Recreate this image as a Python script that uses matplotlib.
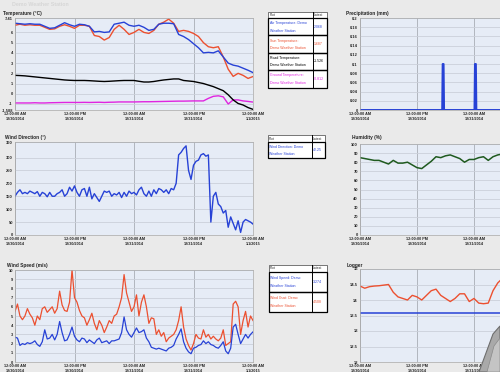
import matplotlib
matplotlib.use("Agg")
import matplotlib.pyplot as plt
from matplotlib.patches import Rectangle, Polygon

plt.rcParams['font.family'] = ['Liberation Sans', 'DejaVu Sans']

W, H = 500, 372

# ---- time axis (hours since 12:00 AM 12/30/2014) ----
tick_hours = [0, 12, 24, 36, 48]
tick_labels = ['12:00:00 AM\n12/30/2014', '12:00:00 PM\n12/30/2014',
               '12:00:00 AM\n12/31/2014', '12:00:00 PM\n12/31/2014',
               '12:00:00 AM\n1/1/2015']

hours_1h = list(range(49))
hours_half = [i * 0.5 for i in range(97)]

# ---- temperature (°C), hourly ----
air_temp = [6.9, 6.85, 6.8, 6.85, 6.8, 6.8, 6.6, 6.4, 6.45, 6.7, 6.95, 6.75, 6.6,
            6.8, 6.75, 6.6, 6.05, 6.1, 6.0, 6.05, 6.8, 6.9, 7.0, 6.7, 6.6, 6.7,
            6.5, 6.2, 6.3, 6.8, 6.9, 6.9, 6.85, 5.8, 5.6, 5.3, 4.9, 4.5, 4.0,
            4.05, 4.0, 4.2, 3.6, 3.0, 2.8, 2.7, 2.5, 2.3, 2.068]
sun_temp = [6.7, 6.8, 6.7, 6.75, 6.7, 6.7, 6.5, 6.3, 6.35, 6.6, 6.75, 6.6, 6.4,
            6.7, 6.7, 6.6, 5.7, 5.6, 5.25, 5.5, 6.3, 6.7, 6.3, 5.8, 6.0, 6.3,
            6.0, 5.9, 6.2, 6.8, 7.0, 7.3, 6.9, 6.1, 6.2, 6.1, 5.9, 5.6, 5.0,
            4.6, 4.5, 4.6, 3.6, 2.4, 1.7, 2.0, 1.8, 1.5, 1.687]
road_temp = [1.8, 1.78, 1.75, 1.7, 1.65, 1.6, 1.55, 1.5, 1.45, 1.4, 1.35, 1.32,
             1.3, 1.3, 1.3, 1.28, 1.25, 1.22, 1.2, 1.22, 1.25, 1.28, 1.3, 1.3,
             1.3, 1.22, 1.15, 1.15, 1.2, 1.28, 1.35, 1.4, 1.45, 1.45, 1.3, 1.25,
             1.2, 1.1, 1.0, 0.85, 0.7, 0.5, 0.3, -0.1, -0.6, -0.95, -1.1, -1.35,
             -1.526]
ground_temp = [-0.9, -0.9, -0.9, -0.9, -0.88, -0.9, -0.9, -0.88, -0.87, -0.86,
               -0.85, -0.85, -0.85, -0.85, -0.84, -0.85, -0.84, -0.83, -0.85,
               -0.83, -0.82, -0.8, -0.8, -0.8, -0.8, -0.79, -0.78, -0.78, -0.77,
               -0.76, -0.75, -0.74, -0.73, -0.72, -0.72, -0.71, -0.7, -0.7, -0.7,
               -0.45, -0.25, -0.2, -0.3, -1.0, -0.6, -0.6, -0.7, -0.75, -0.812]

# ---- wind direction (°), half-hourly ----
wind_dir = [150, 165, 175, 160, 165, 160, 170, 165, 160, 168, 150, 165, 160, 148,
            165, 150, 150, 160, 165, 175, 150, 160, 185, 170, 190, 165, 150, 175,
            180, 150, 185, 140, 160, 145, 130, 150, 170, 165, 170, 150, 160, 155,
            165, 145, 165, 150, 170, 160, 165, 155, 175, 185, 160, 150, 170, 150,
            175, 160, 180, 175, 165, 175, 160, 180, 175, 200, 310, 320, 335, 345,
            250, 215, 270, 285, 290, 310, 315, 305, 310, 50, 150, 165, 120, 110,
            85, 95, 30, 70, 45, 20, 55, 10, 50, 60, 55, 50, 42.25]

# ---- wind speed / gust (m/s), half-hourly ----
wind_gust = [5.5, 6.3, 5.0, 4.6, 5.0, 5.8, 5.2, 4.8, 4.0, 5.0, 4.6, 5.8, 6.0, 5.4,
             5.7, 6.0, 5.3, 5.8, 7.7, 6.2, 5.6, 5.5, 6.5, 10.0, 7.0, 6.5, 5.6, 5.0,
             4.8, 4.0, 4.6, 5.3, 4.2, 3.5, 4.5, 4.0, 3.2, 3.8, 4.5, 4.2, 5.0, 5.2,
             6.0, 7.0, 9.5, 7.5, 6.5, 5.5, 6.0, 7.3, 5.0, 6.5, 7.3, 6.0, 4.2, 4.8,
             4.7, 3.0, 3.5, 2.8, 3.2, 2.2, 2.6, 2.8, 3.0, 3.5, 4.5, 6.0, 3.8, 2.5,
             1.8, 1.3, 2.0, 3.0, 2.6, 2.5, 3.5, 2.7, 3.0, 2.5, 2.8, 2.5, 2.3, 2.6,
             3.5, 1.8, 2.0, 2.2, 6.3, 6.6, 6.0, 3.0, 4.5, 5.5, 3.8, 5.0, 4.508]
wind_speed = [2.7, 2.6, 1.8, 2.0, 1.9, 2.1, 2.0, 2.1, 2.3, 1.9, 1.7, 2.2, 3.5, 2.5,
              2.6, 3.0, 2.4, 3.0, 4.4, 3.2, 2.3, 2.4, 3.0, 3.8, 2.8, 2.4, 2.2, 2.6,
              2.5, 2.1, 2.4, 2.2, 2.0, 2.4, 2.6, 2.1, 2.2, 2.3, 2.0, 2.3, 2.3, 2.4,
              2.5, 3.2, 4.9, 3.5, 3.0, 2.7, 3.2, 3.7, 3.2, 3.3, 3.5, 2.6, 2.2, 1.6,
              1.5, 1.4, 1.5, 1.4, 1.3, 1.2, 1.5, 1.6, 1.8, 2.5, 3.0, 3.6, 2.2, 1.5,
              1.1, 0.9, 1.5, 1.6, 1.8, 1.9, 2.3, 2.0, 2.2, 1.9, 1.8, 1.6, 1.5, 1.8,
              2.2, 1.2, 0.9, 1.5, 3.8, 4.1, 3.0, 2.0, 2.5, 3.0, 2.6, 3.0, 3.274]

# ---- precipitation (mm) ----
precip_hours = [0, 17.3, 17.4, 17.6, 17.7, 24.1, 24.2, 24.4, 24.5, 31]
precip_mm = [0, 0, 0.1, 0.1, 0, 0, 0.1, 0.1, 0, 0]

# ---- humidity (%), hourly ----
hours_hum = list(range(31))
humidity = [85, 84, 83, 82, 82, 80, 78, 82, 79, 79, 80, 77, 74, 73, 77, 81, 86,
            85, 87, 88, 86, 84, 80, 83, 83, 85, 86, 82, 86, 88, 89]

# ---- logger voltage, hourly ----
logger_a = [14.45, 14.38, 14.43, 14.45, 14.46, 14.48, 14.5, 14.25, 14.1, 14.05,
            14.0, 14.15, 14.1, 14.0, 14.15, 14.3, 14.35, 14.15, 14.05, 13.95,
            14.05, 14.2, 14.2, 13.95, 14.05, 13.9, 13.88, 13.9, 14.3, 14.55, 14.7]
logger_b_hours = [0, 31]
logger_b = [13.57, 13.57]

BLUE = '#2742d6'
RED = '#ec5030'
MAGENTA = '#e025e0'
GREEN = '#1f5a1f'
TXT = '#262626'

fig = plt.figure(figsize=(W / 100, H / 100), dpi=100, facecolor='#eaeaea')


def panel(l, t, r, b, nticks):
    ax = fig.add_axes([l / W, 1 - b / H, (r - l) / W, (b - t) / H])
    ax.set_facecolor('#e6ecf6')
    ax.set_xlim(0, 48)
    ax.set_xticks(tick_hours[:nticks])
    ax.set_xticklabels(tick_labels[:nticks], fontsize=2.7, color=TXT,
                       weight='bold', linespacing=1.15)
    ax.tick_params(length=0, pad=1.5)
    ax.grid(axis='y', color='#cbd0da', lw=0.6)
    ax.grid(axis='x', color='#a9adb5', lw=0.6)
    ax.set_axisbelow(True)
    for s in ax.spines.values():
        s.set_color('#a8a8a8')
        s.set_linewidth(0.5)
    return ax


def yaxis(ax, lo, hi, ticks, labels):
    ax.set_ylim(lo, hi)
    ax.set_yticks(ticks)
    ax.set_yticklabels(labels, fontsize=2.9, color=TXT, weight='bold')


# Temperature
ax = panel(15, 18, 253, 110, 5)
yaxis(ax, -1.588, 7.41, [-1.588, -1, 0, 1, 2, 3, 4, 5, 6, 7.41],
      ['-1.588', '-1', '0', '1', '2', '3', '4', '5', '6', '7.41'])
ax.plot(hours_1h, ground_temp, color=MAGENTA, lw=1.0)
ax.plot(hours_1h, road_temp, color='black', lw=1.0)
ax.plot(hours_1h, sun_temp, color=RED, lw=1.0)
ax.plot(hours_1h, air_temp, color=BLUE, lw=1.0)

# Wind direction
ax = panel(15, 142, 253, 235, 5)
yaxis(ax, 0, 360, [0, 50, 100, 150, 200, 250, 300, 360],
      ['0', '50', '100', '150', '200', '250', '300', '360'])
ax.plot(hours_half, wind_dir, color=BLUE, lw=1.0)

# Wind speed
ax = panel(15, 270, 253, 362, 5)
yaxis(ax, 0, 10, list(range(11)), [str(i) for i in range(11)])
ax.plot(hours_half, wind_gust, color=RED, lw=0.9)
ax.plot(hours_half, wind_speed, color=BLUE, lw=0.9)

# Precipitation
ax = panel(360, 18, 588, 110, 3)
pt = [i * 0.02 for i in range(11)]
yaxis(ax, 0, 0.2, pt, ['0'] + ['%g' % round(v, 2) for v in pt[1:]])
ax.plot(precip_hours, precip_mm, color=BLUE, lw=1.4)

# Humidity
ax = panel(360, 144, 588, 235, 3)
yaxis(ax, 0, 100, list(range(0, 101, 10)), [str(v) for v in range(0, 101, 10)])
ax.plot(hours_hum, humidity, color=GREEN, lw=1.1)

# Logger
ax = panel(360, 269, 588, 362, 3)
lt = [12, 12.5, 13, 13.5, 14, 14.5, 15]
yaxis(ax, 12, 15, lt, ['%g' % v for v in lt])
ax.plot(hours_hum, logger_a, color=RED, lw=1.0)
ax.plot(logger_b_hours, logger_b, color=BLUE, lw=1.1)

# ---- overlay in pixel coordinates: titles, legend tables ----
ov = fig.add_axes([0, 0, 1, 1], zorder=10)
ov.set_xlim(0, W)
ov.set_ylim(H, 0)
ov.axis('off')

ov.text(12, 4, 'Demo Weather Station', fontsize=3.8, weight='bold',
        color='#d6d6d6', va='center')
for x, y, s in [(3, 13, 'Temperature (°C)'), (5, 138, 'Wind Direction (°)'),
                (7, 265, 'Wind Speed (m/s)'), (346, 13, 'Precipitation (mm)'),
                (352, 138, 'Humidity (%)'), (347, 265, 'Logger')]:
    ov.text(x, y, s, fontsize=3.4, weight='bold', color='#222222', va='center')


def legend_table(l, t, r, b, div, hh, rows):
    ov.add_patch(Rectangle((l + 1.2, t + 1.2), r - l, b - t, color='#b8b8b8',
                           lw=0, alpha=0.6))
    ov.add_patch(Rectangle((l, t), r - l, b - t, facecolor='white',
                           edgecolor='#444444', lw=0.5))
    ov.text(l + 1.5, t + hh / 2, 'Plot', fontsize=2.4, color='#303030', va='center')
    ov.text(div + 1, t + hh / 2, 'Latest', fontsize=2.4, color='#303030', va='center')
    rh = (b - t - hh) / len(rows)
    for i, (name1, name2, val, col) in enumerate(rows):
        y0 = t + hh + i * rh
        ov.add_patch(Rectangle((l, y0), r - l, rh, fill=False,
                               edgecolor='black', lw=0.9))
        ov.text(l + 1.5, y0 + rh * 0.3, name1, fontsize=2.5, color=col, va='center')
        ov.text(l + 1.5, y0 + rh * 0.72, name2, fontsize=2.5, color=col, va='center')
        ov.text(div + 1, y0 + rh / 2, val, fontsize=2.5, color=col, va='center')
    ov.plot([div, div], [t, b], color='black', lw=0.7)


legend_table(268, 11.5, 327, 87.5, 312.5, 6.5, [
    ('Air Temperature: Demo', 'Weather Station', '%.3f' % air_temp[-1], BLUE),
    ('Sun Temperature:', 'Demo Weather Station', '%.3f' % sun_temp[-1], RED),
    ('Road Temperature:', 'Demo Weather Station', '%.3f' % road_temp[-1], 'black'),
    ('Ground Temperature:', 'Demo Weather Station', '%.3f' % ground_temp[-1], MAGENTA),
])
legend_table(267.5, 135, 325, 158, 311.5, 7, [
    ('Wind Direction: Demo', 'Weather Station', '%.2f' % wind_dir[-1], BLUE),
])
legend_table(268.5, 265, 327, 312, 312, 6.5, [
    ('Wind Speed: Demo', 'Weather Station', '%.3f' % wind_speed[-1], BLUE),
    ('Wind Gust: Demo', 'Weather Station', '%.3f' % wind_gust[-1], RED),
])

# device edge in the lower right corner
ov.add_patch(Polygon([(500, 326), (493, 334), (479, 372), (500, 372)],
                     closed=True, facecolor='#a9a9a9', edgecolor='#6e6e6e', lw=0.8))
ov.add_patch(Polygon([(500, 338), (494, 346), (487, 372), (500, 372)],
                     closed=True, facecolor='#c4c4c4', edgecolor='#8a8a8a', lw=0.5))

fig.savefig('out.png', dpi=100, facecolor=fig.get_facecolor())
